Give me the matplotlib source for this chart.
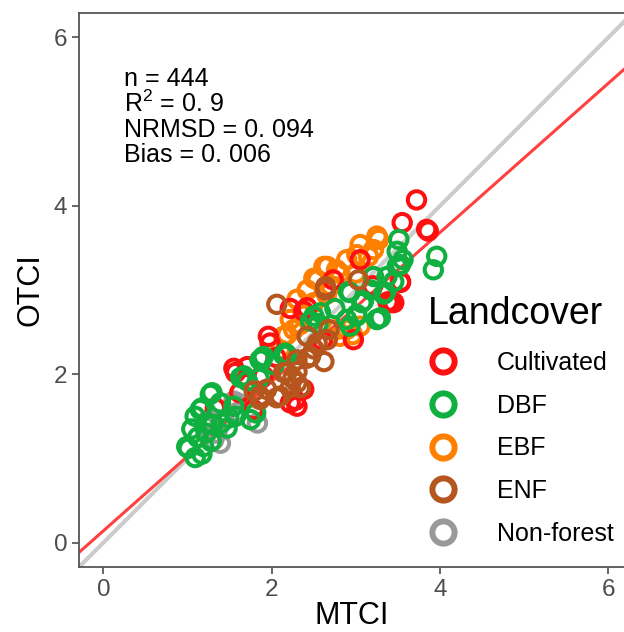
import matplotlib
matplotlib.use("Agg")
import matplotlib.pyplot as plt
from matplotlib.lines import Line2D
import numpy as np

plt.rcParams['font.family'] = ['Liberation Sans', 'DejaVu Sans']
plt.rcParams['mathtext.fontset'] = 'custom'
plt.rcParams['mathtext.rm'] = 'Liberation Sans'

# Data (MTCI, OTCI) per landcover class
classes = ["Cultivated", "DBF", "EBF", "ENF", "Non-forest"]
colors = {"Cultivated": "#FF1010", "DBF": "#10B040", "EBF": "#FF8000",
          "ENF": "#B5561E", "Non-forest": "#999999"}

cult_x = [3.72, 3.55, 3.86, 3.05, 3.53, 3.41, 2.97, 2.42, 1.96, 1.57, 1.71, 2.22, 2.73,
          1.78, 2.22, 3.38, 2.28, 1.33, 2.60, 3.20, 2.05, 1.62, 1.55, 1.98, 2.30, 2.38,
          1.90, 3.45, 2.38, 3.53, 3.84]
cult_y = [4.07, 3.80, 3.70, 3.36, 3.09, 2.85, 2.41, 2.79, 2.45, 2.02, 2.09, 1.66, 3.12,
          1.58, 2.78, 2.86, 1.69, 1.60, 2.40, 3.05, 2.20, 1.78, 2.07, 2.37, 1.62, 1.82,
          1.98, 2.85, 2.75, 3.10, 3.72]

dbf_x = [3.51, 3.96, 3.92, 3.53, 3.37, 3.35, 3.07, 3.25, 3.01, 2.89, 2.93, 2.50, 2.46,
         1.88, 2.18, 1.67, 1.29, 1.39, 1.15, 1.09, 1.57, 1.47, 0.99, 1.19, 1.75, 1.01,
         1.09, 3.56, 3.49, 3.29, 2.03, 1.22, 1.30, 1.40, 1.12, 1.55, 2.55, 3.18, 3.45,
         2.75, 1.85, 1.05, 1.28, 1.27, 1.17, 1.23, 1.49, 1.17, 1.63, 1.86, 1.71, 2.14,
         1.81, 3.49, 3.33, 3.09, 2.91, 3.01, 3.25, 2.93, 2.58, 1.90, 2.16, 3.21]
dbf_y = [3.60, 3.40, 3.24, 3.30, 3.16, 2.97, 2.85, 2.65, 2.71, 2.65, 2.97, 2.69, 2.63,
         2.17, 2.23, 1.98, 1.78, 1.66, 1.58, 1.50, 1.50, 1.36, 1.14, 1.14, 1.46, 1.12,
         1.01, 3.36, 3.46, 2.67, 2.11, 1.30, 1.40, 1.42, 1.25, 1.62, 2.60, 3.00, 3.10,
         2.78, 1.95, 1.35, 1.20, 1.76, 1.60, 1.42, 1.48, 1.05, 1.96, 2.17, 1.92, 2.23,
         1.54, 3.28, 2.95, 2.87, 2.98, 2.69, 2.65, 2.57, 2.73, 2.21, 2.25, 3.16]

ebf_x = [3.25, 3.05, 3.21, 2.62, 2.77, 2.89, 2.42, 2.30, 2.54, 2.22, 2.26, 2.14, 2.77,
         2.81, 3.05, 2.10, 2.96, 2.34, 3.27, 2.70, 3.00, 2.50, 2.38, 3.15, 2.65, 3.01,
         2.66, 2.81, 2.18, 2.89, 2.50]
ebf_y = [3.64, 3.54, 3.48, 3.28, 3.24, 3.36, 3.00, 2.89, 3.12, 2.65, 2.53, 2.45, 2.53,
         2.45, 2.57, 2.29, 2.47, 2.59, 3.60, 3.05, 3.20, 2.85, 2.70, 3.40, 2.95, 3.42,
         3.28, 3.20, 2.47, 2.53, 3.14]

enf_x = [2.06, 2.64, 3.03, 2.68, 2.54, 2.42, 2.46, 2.62, 2.18, 2.30, 1.94, 1.79, 2.06,
         2.34, 1.86, 2.64, 2.50, 2.25, 2.10, 2.14, 2.30, 2.42, 2.22, 2.66, 2.30, 1.86]
enf_y = [2.83, 3.00, 3.12, 2.53, 2.37, 2.45, 2.21, 2.15, 2.02, 1.90, 1.82, 1.80, 1.72,
         1.84, 1.74, 3.04, 2.30, 1.95, 1.74, 2.02, 2.03, 2.19, 1.84, 2.41, 2.17, 1.70]

nonf_x = [1.25, 1.39, 1.83, 1.55, 1.31, 1.35, 1.60, 1.20, 1.27, 1.59]
nonf_y = [1.46, 1.18, 1.42, 1.68, 1.22, 1.30, 1.55, 1.38, 1.46, 1.66]

fit_slope, fit_intercept = 0.886, 0.14
stats = ["n = 444", "R$^{2}$ = 0. 9", "NRMSD = 0. 094", "Bias = 0. 006"]

series = {"Cultivated": (cult_x, cult_y), "DBF": (dbf_x, dbf_y), "EBF": (ebf_x, ebf_y),
          "ENF": (enf_x, enf_y), "Non-forest": (nonf_x, nonf_y)}
draw_order = ["Non-forest", "EBF", "Cultivated", "DBF", "ENF"]

fig = plt.figure(figsize=(6.24, 6.32), dpi=100)
ax = fig.add_axes([79 / 624, 65 / 632, 1 - 79 / 624 + 0.002, (567 - 13) / 632])

xlim = (-0.29, 6.2)
ylim = (-0.29, 6.29)

# 1:1 line and fitted line
xx = np.array([-1, 7])
ax.plot(xx, xx, color="#CCCCCC", lw=3, zorder=1)
ax.plot(xx, fit_slope * xx + fit_intercept, color="#FF4040", lw=2.2, zorder=2)

for name in draw_order:
    x, y = series[name]
    ax.scatter(x, y, s=12.5 ** 2, facecolors="none", edgecolors=colors[name],
               linewidths=2.9, zorder=3)

ax.set_xlim(*xlim)
ax.set_ylim(*ylim)
ax.set_xticks([0, 2, 4, 6])
ax.set_yticks([0, 2, 4, 6])
ax.tick_params(colors="#4D4D4D", labelsize=17.5, length=5, width=1.2, labelcolor="#4D4D4D")
for s in ax.spines.values():
    s.set_color("#555555")
    s.set_linewidth(1.3)

ax.set_xlabel("MTCI", fontsize=22, labelpad=0)
ax.set_ylabel("OTCI", fontsize=22, labelpad=6)

for i, line in enumerate(stats):
    ax.text(0.24, 5.42 - 0.3 * i, line, fontsize=18, va="baseline", ha="left")

handles = [Line2D([], [], ls="none", marker="o", markersize=16, markerfacecolor="none",
                  markeredgecolor=colors[c], markeredgewidth=4.3) for c in classes]
leg = ax.legend(handles, classes, loc="upper left", bbox_to_anchor=(428 / 624, 336 / 632),
                bbox_transform=fig.transFigure, frameon=False, title="Landcover",
                title_fontsize=27, fontsize=18, handlelength=1.2, handletextpad=1.55,
                labelspacing=0.75, borderaxespad=0, borderpad=0, alignment="left")

fig.savefig("out.png", dpi=100)
